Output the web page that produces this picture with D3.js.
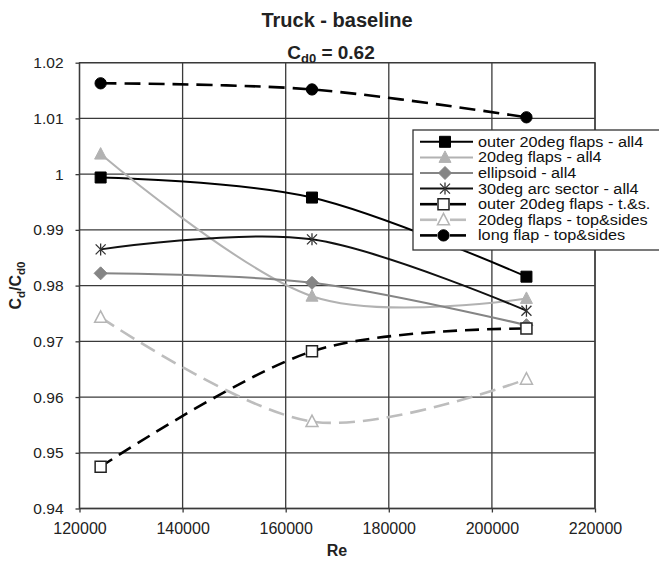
<!DOCTYPE html>
<html>
<head>
<meta charset="utf-8">
<script src="https://cdn.jsdelivr.net/npm/d3@7"></script>
<style>
  html, body { margin: 0; padding: 0; background: #fff; }
  svg { display: block; font-family: "Liberation Sans", Arial, sans-serif; }
</style>
</head>
<body>
<div id="chart"></div>
<script>
// Reynolds numbers at which each configuration was measured
const reynolds = [124100, 165100, 206700];

// Cd/Cd0 for each configuration
const outerFlapsAll4   = [0.9994, 0.9958, 0.9816];
const flaps20All4      = [1.0036, 0.9781, 0.9777];
const ellipsoidAll4    = [0.9822, 0.9805, 0.9729];
const arcSectorAll4    = [0.9865, 0.9883, 0.9755];
const outerFlapsTS     = [0.9475, 0.9682, 0.9723];
const flaps20TopSides  = [0.9743, 0.9556, 0.9632];
const longFlapTopSides = [1.0163, 1.0152, 1.0102];

const seriesNames = [
  "outer 20deg flaps - all4",
  "20deg flaps - all4",
  "ellipsoid - all4",
  "30deg arc sector - all4",
  "outer 20deg flaps - t.&s.",
  "20deg flaps - top&sides",
  "long flap - top&sides"
];

// Axis ticks
const xTicks = [120000, 140000, 160000, 180000, 200000, 220000];
const yTicks = [0.94, 0.95, 0.96, 0.97, 0.98, 0.99, 1.00, 1.01, 1.02];

const W = 659, H = 561;
const plot = { left: 79.5, right: 595, top: 62.7, bottom: 508.5 };

const svg = d3.select("#chart").append("svg")
  .attr("width", W).attr("height", H);

const x = d3.scaleLinear().domain([120000, 220000]).range([plot.left, plot.right]);
const y = d3.scaleLinear().domain([0.94, 1.02]).range([plot.bottom, plot.top]);

// Grid
const grid = svg.append("g").attr("stroke", "#3a3a3a").attr("stroke-width", 1.3);
grid.selectAll("line.h").data(yTicks).join("line").attr("class", "h")
  .attr("x1", plot.left).attr("x2", plot.right)
  .attr("y1", d => y(d)).attr("y2", d => y(d));
grid.selectAll("line.v").data(xTicks).join("line").attr("class", "v")
  .attr("y1", plot.top).attr("y2", plot.bottom)
  .attr("x1", d => x(d)).attr("x2", d => x(d));

// Axes
const fmtY = d3.format("~g");
const yAxis = svg.append("g")
  .attr("transform", `translate(${plot.left},0)`)
  .call(d3.axisLeft(y).tickValues(yTicks).tickFormat(fmtY).tickSize(4).tickPadding(12));
const xAxis = svg.append("g")
  .attr("transform", `translate(0,${plot.bottom})`)
  .call(d3.axisBottom(x).tickValues(xTicks).tickFormat(d3.format("d")).tickSize(4).tickPadding(10));
[xAxis, yAxis].forEach(a => {
  a.select(".domain").remove();
  a.selectAll(".tick line").attr("stroke", "#3a3a3a").attr("stroke-width", 1.3);
  a.selectAll(".tick text").attr("fill", "#222")
    .style("font-family", "'Liberation Sans', Arial, sans-serif");
});
xAxis.selectAll(".tick text").style("font-size", "16px");
yAxis.selectAll(".tick text").style("font-size", "15.5px");

// Series definitions
const series = [
  { name: seriesNames[0], values: outerFlapsAll4,   color: "#000",    width: 2,   dash: null,   marker: "square",   fill: "#000" },
  { name: seriesNames[1], values: flaps20All4,      color: "#b2b2b2", width: 2,   dash: null,   marker: "triangle", fill: "#b2b2b2" },
  { name: seriesNames[2], values: ellipsoidAll4,    color: "#858585", width: 2,   dash: null,   marker: "diamond",  fill: "#858585" },
  { name: seriesNames[3], values: arcSectorAll4,    color: "#111",    width: 2,   dash: null,   marker: "star",     fill: "none" },
  { name: seriesNames[4], values: outerFlapsTS,     color: "#000",    width: 2.6, dash: "14,8", marker: "square",   fill: "#fff" },
  { name: seriesNames[5], values: flaps20TopSides,  color: "#bdbdbd", width: 2.6, dash: "16,8", marker: "triangle", fill: "#fff" },
  { name: seriesNames[6], values: longFlapTopSides, color: "#000",    width: 2.6, dash: "16,8", marker: "circle",   fill: "#000" }
];

function markerPath(type) {
  switch (type) {
    case "square":   return "M-5.5,-5.5H5.5V5.5H-5.5Z";
    case "triangle": return "M0,-6.5L6,5L-6,5Z";
    case "diamond":  return "M0,-6.5L6.5,0L0,6.5L-6.5,0Z";
    case "star":     return "M-5,-5L5,5M5,-5L-5,5M0,-6V6";
    case "circle":   return d3.symbol(d3.symbolCircle, 100)();
  }
}

function drawMarker(g, s) {
  const open = s.fill === "#fff";
  g.append("path")
    .attr("d", markerPath(s.marker))
    .attr("fill", s.marker === "star" ? "none" : s.fill)
    .attr("stroke", s.marker === "star" ? "#333" : (open ? (s.color === "#000" ? "#222" : "#b5b5b5") : s.color))
    .attr("stroke-width", s.marker === "star" ? 1.3 : (open ? 1.5 : 1));
}

const line = d3.line()
  .x((d, i) => x(reynolds[i]))
  .y(d => y(d))
  .curve(d3.curveCardinal.tension(0));

const marks = svg.append("g");
series.forEach(s => {
  marks.append("path")
    .attr("d", line(s.values))
    .attr("fill", "none")
    .attr("stroke", s.color)
    .attr("stroke-width", s.width)
    .attr("stroke-dasharray", s.dash);
});
series.forEach(s => {
  s.values.forEach((v, i) => {
    const g = marks.append("g").attr("transform", `translate(${x(reynolds[i])},${y(v)})`);
    drawMarker(g, s);
  });
});

// Plot frame
svg.append("rect")
  .attr("x", plot.left).attr("y", plot.top)
  .attr("width", plot.right - plot.left).attr("height", plot.bottom - plot.top)
  .attr("fill", "none").attr("stroke", "#3a3a3a").attr("stroke-width", 1.3);

// Legend
const legend = svg.append("g");
const lg = { x: 413, y: 130, w: 250, h: 120, row: 15.6, first: 141.8 };
legend.append("rect")
  .attr("x", lg.x).attr("y", lg.y).attr("width", lg.w).attr("height", lg.h)
  .attr("fill", "#fff").attr("stroke", "#333").attr("stroke-width", 1.3);
series.forEach((s, i) => {
  const cy = lg.first + i * lg.row;
  const item = legend.append("g");
  if (s.dash) {
    item.append("line").attr("x1", 420).attr("x2", 437).attr("y1", cy).attr("y2", cy)
      .attr("stroke", s.color).attr("stroke-width", s.width);
    item.append("line").attr("x1", 450).attr("x2", 466).attr("y1", cy).attr("y2", cy)
      .attr("stroke", s.color).attr("stroke-width", s.width);
  } else {
    item.append("line").attr("x1", 420).attr("x2", 473).attr("y1", cy).attr("y2", cy)
      .attr("stroke", s.color).attr("stroke-width", s.width);
  }
  const g = item.append("g").attr("transform", `translate(${s.dash ? 443.5 : 445},${cy})`);
  drawMarker(g, s);
  // legend labels are set in a slightly widened face to fit the tight row pitch
  item.append("g").attr("transform", `translate(478,${cy}) scale(1.16,1)`)
    .append("text").attr("x", 0).attr("y", 0).attr("dy", "0.36em")
    .style("font-size", "14px").attr("fill", "#111").text(s.name);
});

// Titles
svg.append("text").attr("x", 337).attr("y", 27).attr("text-anchor", "middle")
  .style("font-size", "20px").style("font-weight", "bold").attr("fill", "#222")
  .text("Truck - baseline");
const sub = svg.append("text").attr("x", 331).attr("y", 59).attr("text-anchor", "middle")
  .style("font-size", "19px").style("font-weight", "bold").attr("fill", "#222");
sub.append("tspan").text("C");
sub.append("tspan").attr("dy", 4).style("font-size", "13px").text("d0");
sub.append("tspan").attr("dy", -4).text(" = 0.62");

svg.append("text").attr("x", 337).attr("y", 556).attr("text-anchor", "middle")
  .style("font-size", "16px").style("font-weight", "bold").attr("fill", "#222").text("Re");

const yl = svg.append("text")
  .attr("transform", `translate(21,${(plot.top + plot.bottom) / 2}) rotate(-90)`)
  .attr("text-anchor", "middle")
  .style("font-size", "16px").style("font-weight", "bold").attr("fill", "#222");
yl.append("tspan").text("C");
yl.append("tspan").attr("dy", 4).style("font-size", "11.5px").text("d");
yl.append("tspan").attr("dy", -4).text("/C");
yl.append("tspan").attr("dy", 4).style("font-size", "11.5px").text("d0");
</script>
</body>
</html>
